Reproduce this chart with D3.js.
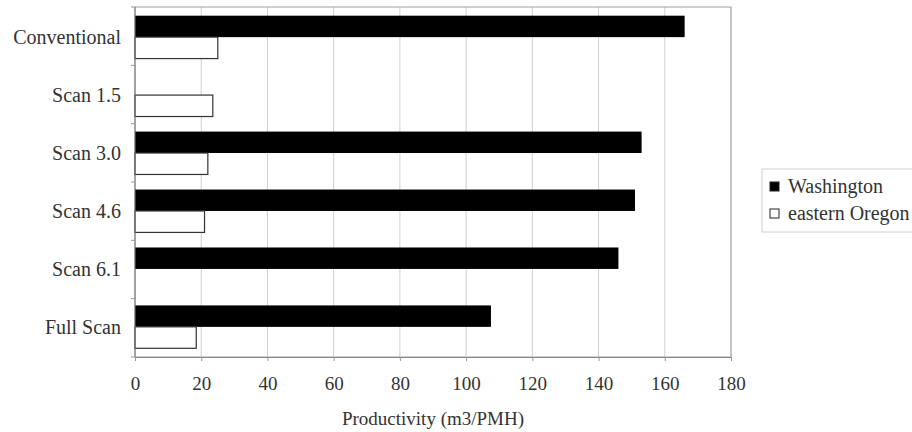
<!DOCTYPE html>
<html>
<head>
<meta charset="utf-8">
<script src="https://cdn.jsdelivr.net/npm/d3@7/dist/d3.min.js"></script>
<style>
  html, body { margin: 0; padding: 0; background: #fff; }
  svg { display: block; }
</style>
</head>
<body>
<div id="chart"></div>
<script>
// Data
const categories = ['Conventional', 'Scan 1.5', 'Scan 3.0', 'Scan 4.6', 'Scan 6.1', 'Full Scan'];
const seriesNames = ['Washington', 'eastern Oregon'];
const washington = [166, null, 153, 151, 146, 107.5];
const easternOregon = [25, 23.5, 22, 21, null, 18.5];
const xTicks = [0, 20, 40, 60, 80, 100, 120, 140, 160, 180];
const xTitle = 'Productivity (m3/PMH)';

// Liberation Serif comes out as a sans face at small sizes here, try the URW Times clone
const FONT = "'Nimbus Roman'";
const TEXT_COLOR = '#333';

const width = 912, height = 432;
const margin = { top: 7, right: 181, bottom: 75, left: 135 };

const svg = d3.select('#chart')
    .append('svg')
    .attr('width', width)
    .attr('height', height)
    .attr('font-family', FONT);

function label(parent, x, y, text, size, anchor) {
    return parent.append('text')
        .attr('x', x)
        .attr('y', y)
        .attr('font-family', FONT)
        .attr('font-size', size)
        .attr('text-anchor', anchor || 'start')
        .attr('fill', TEXT_COLOR)
        .text(text);
}

const x = d3.scaleLinear()
    .domain([0, 180])
    .range([margin.left, width - margin.right]);

const y0 = d3.scaleBand()
    .domain(categories)
    .range([margin.top, height - margin.bottom])
    .paddingInner(0.26)
    .paddingOuter(0.15);

const y1 = d3.scaleBand()
    .domain(seriesNames)
    .range([0, y0.bandwidth()]);

const plotTop = margin.top, plotBottom = height - margin.bottom;
const plotLeft = margin.left, plotRight = width - margin.right;

// Grid lines
svg.append('g')
    .selectAll('line')
    .data(xTicks.slice(1))
    .enter()
    .append('line')
    .attr('x1', d => x(d)).attr('x2', d => x(d))
    .attr('y1', plotTop).attr('y2', plotBottom)
    .attr('stroke', '#cfcfcf')
    .attr('stroke-width', 1);

// Plot border
svg.append('rect')
    .attr('x', plotLeft).attr('y', plotTop)
    .attr('width', plotRight - plotLeft)
    .attr('height', plotBottom - plotTop)
    .attr('fill', 'none')
    .attr('stroke', '#a0a0a0')
    .attr('stroke-width', 1);

// Bars
const rows = categories.map((c, i) => ({
    category: c,
    values: [
        { series: seriesNames[0], value: washington[i] },
        { series: seriesNames[1], value: easternOregon[i] }
    ]
}));

const groups = svg.append('g')
    .selectAll('g')
    .data(rows)
    .enter()
    .append('g')
    .attr('transform', d => `translate(0,${y0(d.category)})`);

groups.selectAll('rect')
    .data(d => d.values.filter(v => v.value != null))
    .enter()
    .append('rect')
    .attr('x', x(0))
    .attr('y', d => y1(d.series))
    .attr('width', d => x(d.value) - x(0))
    .attr('height', y1.bandwidth())
    .attr('fill', d => d.series === 'Washington' ? '#000' : '#fff')
    .attr('stroke', d => d.series === 'Washington' ? 'none' : '#333')
    .attr('stroke-width', 1.2);

// Left axis line and category ticks
svg.append('line')
    .attr('x1', plotLeft).attr('x2', plotLeft)
    .attr('y1', plotTop).attr('y2', plotBottom)
    .attr('stroke', '#777');

svg.append('g')
    .selectAll('line')
    .data(d3.range(categories.length + 1))
    .enter()
    .append('line')
    .attr('x1', plotLeft - 4).attr('x2', plotLeft)
    .attr('y1', i => plotTop + i * (plotBottom - plotTop) / categories.length)
    .attr('y2', i => plotTop + i * (plotBottom - plotTop) / categories.length)
    .attr('stroke', '#999');

// Category labels
const catLabels = svg.append('g');
categories.forEach(c => {
    label(catLabels, plotLeft - 14, y0(c) + y0.bandwidth() / 2 + 7, c, 20, 'end');
});

// Bottom axis
const xAxis = d3.axisBottom(x)
    .tickValues(xTicks)
    .tickSize(4)
    .tickPadding(16)
    .tickFormat(d3.format('d'));

const axisG = svg.append('g')
    .attr('transform', `translate(0,${plotBottom})`)
    .call(xAxis)
    .attr('font-family', FONT)
    .attr('font-size', 19);
axisG.select('.domain').attr('stroke', '#888');
axisG.selectAll('.tick line').attr('stroke', '#999');
axisG.selectAll('.tick text').attr('fill', TEXT_COLOR);

// Axis title
label(svg, (plotLeft + plotRight) / 2, 425, xTitle, 19, 'middle');

// Legend
const legend = svg.append('g').attr('transform', 'translate(762,169)');
legend.append('rect')
    .attr('x', 0).attr('y', 0)
    .attr('width', 170).attr('height', 63)
    .attr('fill', '#fff')
    .attr('stroke', '#d0d0d0');

seriesNames.forEach((name, i) => {
    const item = legend.append('g')
        .attr('transform', `translate(8,${24 + i * 27})`);
    item.append('rect')
        .attr('x', 0).attr('y', -11)
        .attr('width', 9).attr('height', 9)
        .attr('fill', name === 'Washington' ? '#000' : '#fff')
        .attr('stroke', '#222')
        .attr('stroke-width', 1);
    label(item, 18, 0, name, 20, 'start');
});
</script>
</body>
</html>
